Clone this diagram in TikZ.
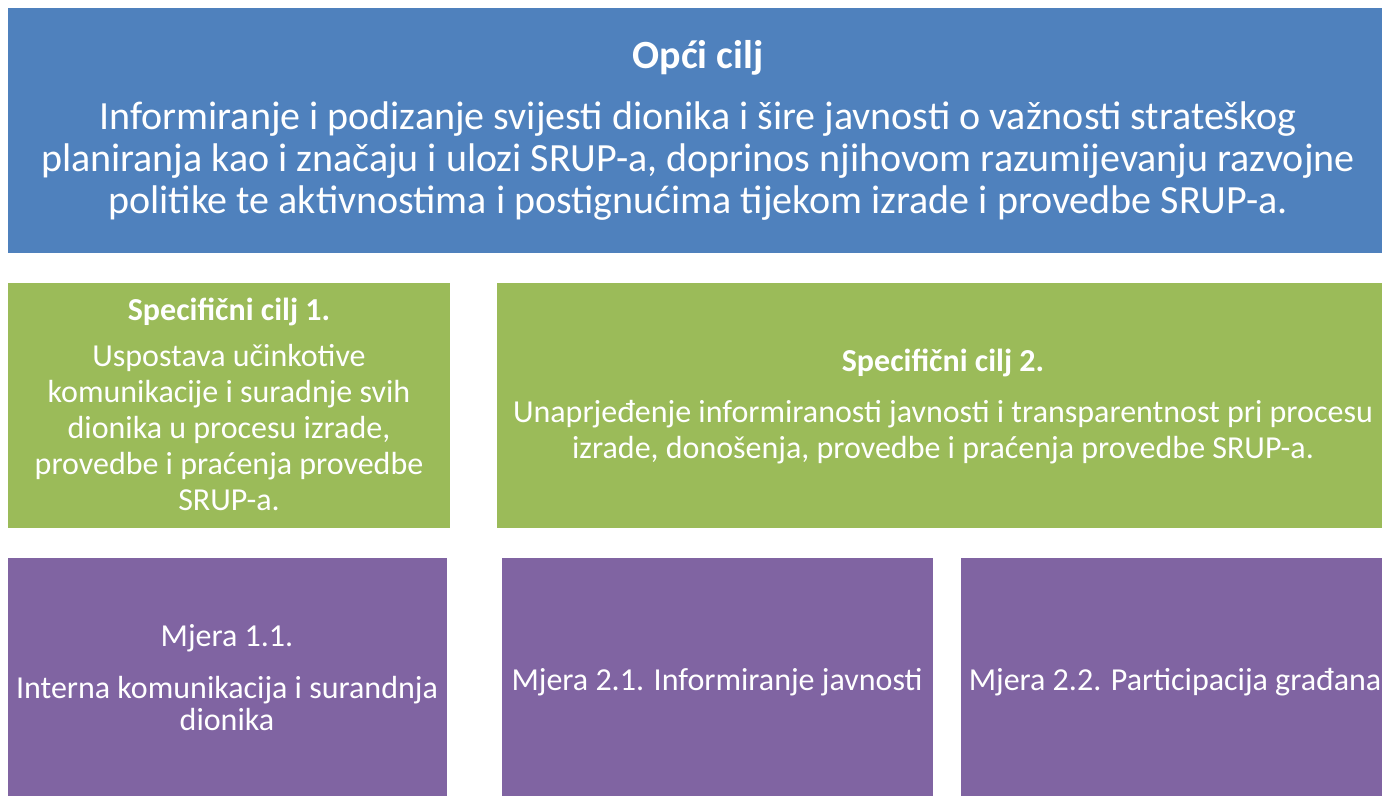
\documentclass[tikz,border=0pt]{standalone}
\usepackage{fontspec}
\setmainfont{Carlito}
\definecolor{cblue}{HTML}{4F81BD}
\definecolor{cgreen}{HTML}{9BBB59}
\definecolor{cpurple}{HTML}{8064A2}
\begin{document}
\begin{tikzpicture}[x=1pt,y=-1pt,
  boxr/.style={anchor=north west,inner sep=0pt,outer sep=0pt,draw=none},
  txt/.style={text=white,align=center,inner sep=0pt,anchor=base},
  big/.style={font=\fontsize{40}{42}\selectfont},
  mid/.style={font=\fontsize{32}{36}\selectfont},
  pur/.style={font=\fontsize{32}{32}\selectfont}]
\useasboundingbox (0,0) rectangle (1382,796);
\fill[white] (0,0) rectangle (1382,796);
% boxes
\node[boxr,fill=cblue,minimum width=1374pt,minimum height=245pt] (gen) at (8,8) {};
\node[boxr,fill=cgreen,minimum width=442pt,minimum height=245pt] (sc1) at (8,283) {};
\node[boxr,fill=cgreen,minimum width=885pt,minimum height=245pt] (sc2) at (497,283) {};
\node[boxr,fill=cpurple,minimum width=439pt,minimum height=238pt] (m11) at (8,558) {};
\node[boxr,fill=cpurple,minimum width=431pt,minimum height=238pt] (m21) at (502,558) {};
\node[boxr,fill=cpurple,minimum width=421pt,minimum height=238pt] (m22) at (961,558) {};
% texts
\node[txt,big] (genT) at (698,68) {\bfseries Opći cilj};
\node[txt,big] (genB) at (698,213) {Informiranje i podizanje svijesti dionika i šire javnosti o važnosti strateškog\\planiranja kao i značaju i ulozi SRUP-a, doprinos njihovom razumijevanju razvojne\\politike te aktivnostima i postignućima tijekom izrade i provedbe SRUP-a.};
\node[txt,mid] (sc1T) at (229,320) {\bfseries Specifični cilj 1.};
\node[txt,mid] (sc1B) at (229,510) {Uspostava učinkotive\\komunikacije i suradnje svih\\dionika u procesu izrade,\\provedbe i praćenja provedbe\\SRUP-a.};
\node[txt,mid] (sc2T) at (943,371) {\bfseries Specifični cilj 2.};
\node[txt,mid] (sc2B) at (943,458) {Unaprjeđenje informiranosti javnosti i transparentnost pri procesu\\izrade, donošenja, provedbe i praćenja provedbe SRUP-a.};
\node[txt,pur] (m11T) at (227,646) {Mjera 1.1.};
\node[txt,pur] (m11B) at (227,730) {Interna komunikacija i surandnja\\dionika};
\node[txt,pur] (m21T) at (717,690) {Mjera 2.1. Informiranje javnosti};
\node[txt,pur] (m22T) at (1175,690) {Mjera 2.2. Participacija građana};
\end{tikzpicture}
\end{document}
